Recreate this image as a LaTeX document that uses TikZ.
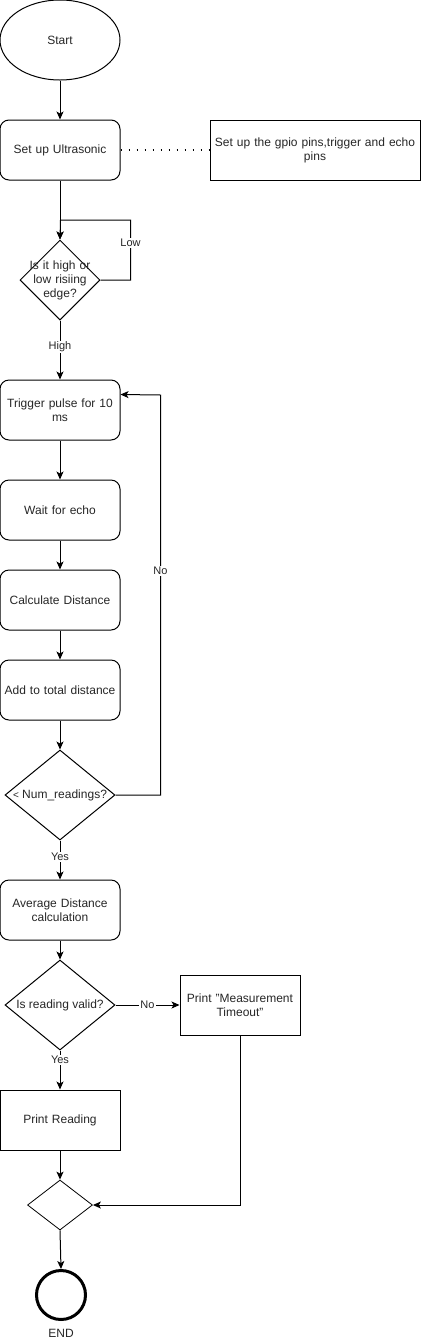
\documentclass[tikz,border=0pt]{standalone}
\usepackage{fontspec}
\setmainfont{Liberation Sans}
\usetikzlibrary{shapes.geometric,arrows.meta,calc}
\definecolor{txt}{HTML}{262626}
\begin{document}
\begin{tikzpicture}[x=1pt,y=-1pt,
  every node/.style={font=\fontsize{12}{14}\selectfont, text=txt},
  line/.style={draw=black, line width=1pt},
  arr/.style={line, -{Stealth[length=8pt,width=7pt,inset=2pt]}},
  rbox/.style={line, rectangle, rounded corners=9pt, minimum width=120pt, minimum height=60pt, inner sep=2pt, align=center, text width=124pt},
  sbox/.style={line, rectangle, minimum width=120pt, minimum height=60pt, inner sep=2pt, align=center, text width=124pt},
  dia/.style={line, diamond, inner sep=0pt},
  lbl/.style={font=\fontsize{11}{13}\selectfont, fill=white, inner sep=1pt},
  ]
\useasboundingbox (0,0) rectangle (421,1342);

\node[line, ellipse, minimum width=120pt, minimum height=80pt, inner sep=0pt] (start) at (60,40) {Start};
\node[rbox, text width=116pt] (setup) at (60,150) {Set up Ultrasonic};
\node[sbox, minimum width=210pt, text width=204pt] (note) at (315,150) {Set up the gpio pins,trigger and echo\\pins};

\node[dia, minimum width=80pt, minimum height=80pt] (d1) at (60,280) {};
\node[align=center, text width=90pt] (d1t) at (60,280) {Is it high or\\low risiing\\edge?};

\node[rbox, text width=116pt] (trig) at (60,410) {Trigger pulse for 10\\ms};
\node[rbox, text width=116pt] (wait) at (60,510) {Wait for echo};
\node[rbox, text width=116pt] (calc) at (60,600) {Calculate Distance};
\node[rbox, text width=116pt] (add) at (60,690) {Add to total distance};

\node[dia, minimum width=110pt, minimum height=90pt] (d2) at (60,795) {};
\node (d2t) at (60,795) {{\fontsize{10}{12}\selectfont<} Num\_readings?};

\node[rbox, text width=116pt] (avg) at (60,910) {Average Distance\\calculation};

\node[dia, minimum width=110pt, minimum height=90pt] (d3) at (60,1005) {};
\node (d3t) at (60,1005) {Is reading valid?};

\node[sbox, text width=116pt] (tout) at (240,1005) {Print "Measurement\\Timeout"};
\node[sbox, text width=116pt] (pr) at (60,1120) {Print Reading};

\node[line, diamond, minimum width=65pt, minimum height=50pt, inner sep=0pt, line width=0.8pt] (d4) at (60,1205) {};

\node[draw=black, line width=3pt, circle, minimum size=49pt, inner sep=0pt] (endc) at (61,1295) {};
\node (endt) at (61,1333) {END};

% connectors
\draw[arr] (start) -- (setup);
\draw[line, line width=1.6pt, dash pattern=on 1.6pt off 6.4pt] (setup.east) -- (note.west);
\draw[arr] (setup) -- (d1.north);
\draw[arr] (d1.east) -- ++(30,0) -- ++(0,-60) node[pos=0.62, lbl] {Low} -- ++(-70,0) -- (d1.north);
\draw[arr] (d1.south) -- node[pos=0.45, lbl] {High} (trig.north);
\draw[arr] (trig) -- (wait);
\draw[arr] (wait) -- (calc);
\draw[arr] (calc) -- (add);
\draw[arr] (add) -- (d2.north);
\draw[arr] (d2.east) -- ++(45,0) -- ++(0,-400) node[pos=0.56, lbl] {No} -- ($(trig.north east)+(0,15)$);
\draw[arr] (d2.south) -- node[pos=0.42, lbl] {Yes} (avg.north);
\draw[arr] (avg) -- (d3.north);
\draw[arr] (d3.east) -- node[pos=0.5, lbl] {No} (tout.west);
\draw[arr] (d3.south) -- node[pos=0.25, lbl] {Yes} (pr.north);
\draw[arr] (pr) -- (d4.north);
\draw[arr] (tout.south) |- (d4.east);
\draw[arr] (d4.south) -- (endc.north);
\end{tikzpicture}
\end{document}
